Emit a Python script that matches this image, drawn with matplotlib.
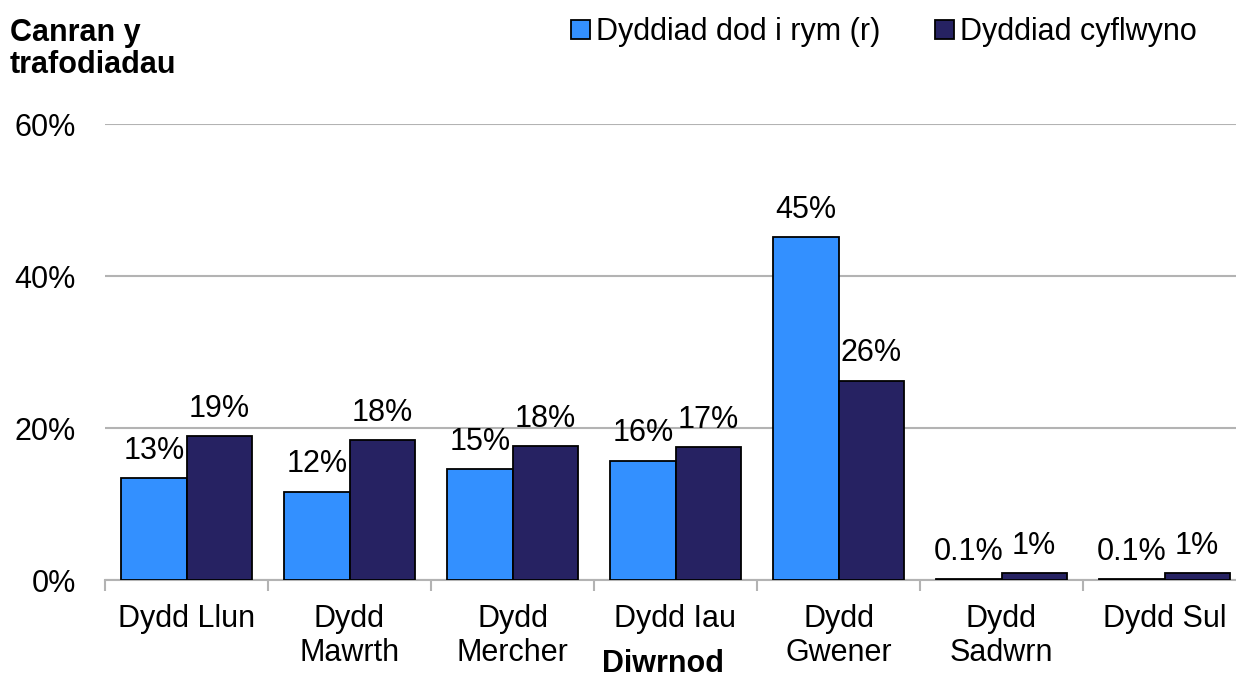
import numpy as np
import matplotlib.pyplot as plt

plt.rcParams['font.family'] = ['Liberation Sans', 'DejaVu Sans']

days = ["Dydd Llun", "Dydd\nMawrth", "Dydd\nMercher", "Dydd Iau", "Dydd\nGwener", "Dydd\nSadwrn", "Dydd Sul"]
dod_i_rym = [13.4, 11.6, 14.6, 15.7, 45.1, 0.1, 0.1]
cyflwyno = [18.9, 18.4, 17.6, 17.5, 26.2, 0.9, 0.9]
dod_labels = ["13%", "12%", "15%", "16%", "45%", "0.1%", "0.1%"]
cyf_labels = ["19%", "18%", "18%", "17%", "26%", "1%", "1%"]

blue = "#3390ff"
navy = "#262262"
fs = 22

fig = plt.figure(figsize=(12.36, 6.79), dpi=100)
# plot area runs slightly past the right edge like the original
ax = fig.add_axes([105/1236, 1 - 580/679, (1246 - 105)/1236, (580 - 124)/679])

x = np.arange(len(days))
w = 0.4
b1 = ax.bar(x - w/2, dod_i_rym, w, color=blue, edgecolor="black", linewidth=1.3,
            label="Dyddiad dod i rym (r)", zorder=3)
b2 = ax.bar(x + w/2, cyflwyno, w, color=navy, edgecolor="black", linewidth=1.3,
            label="Dyddiad cyflwyno", zorder=3)

for rect, lab in zip(b1, dod_labels):
    ax.annotate(lab, (rect.get_x() + rect.get_width()/2, rect.get_height()),
                xytext=(0, 9), textcoords="offset points", ha="center", va="bottom", fontsize=fs)
for rect, lab in zip(b2, cyf_labels):
    ax.annotate(lab, (rect.get_x() + rect.get_width()/2, rect.get_height()),
                xytext=(0, 9), textcoords="offset points", ha="center", va="bottom", fontsize=fs)

ax.set_xlim(-0.5, 6.5)
ax.set_ylim(0, 60)
ax.set_yticks([0, 20, 40, 60])
ax.set_yticklabels(["0%", "20%", "40%", "60%"], fontsize=fs)
ax.yaxis.grid(True, color="#b3b3b3", linewidth=1.5, zorder=0)
ax.tick_params(axis="y", length=0, pad=21)

ax.set_xticks(x)
ax.set_xticklabels(days, fontsize=fs, linespacing=1.2)
ax.tick_params(axis="x", length=0, pad=17)
ax.set_xticks(np.arange(-0.5, 7, 1), minor=True)
ax.tick_params(axis="x", which="minor", length=8, width=1.5, color="#b3b3b3")

for s in ["top", "right", "left"]:
    ax.spines[s].set_visible(False)
ax.spines["bottom"].set_color("#b3b3b3")
ax.spines["bottom"].set_linewidth(1.5)

fig.text(10/1236, 1 - 18/679, "Canran y\ntrafodiadau", fontsize=fs, fontweight="bold",
         va="top", ha="left", linespacing=1.1)
fig.text(663/1236, 1 - 664/679, "Diwrnod", fontsize=fs, fontweight="bold", ha="center", va="center")

fig.legend(loc="center right", bbox_to_anchor=(1224/1236, 1 - 32/679), ncol=2, frameon=False,
           fontsize=fs, handlelength=0.6, handleheight=0.6, handletextpad=0.2, columnspacing=1.8)

fig.savefig("out.png", dpi=100)
